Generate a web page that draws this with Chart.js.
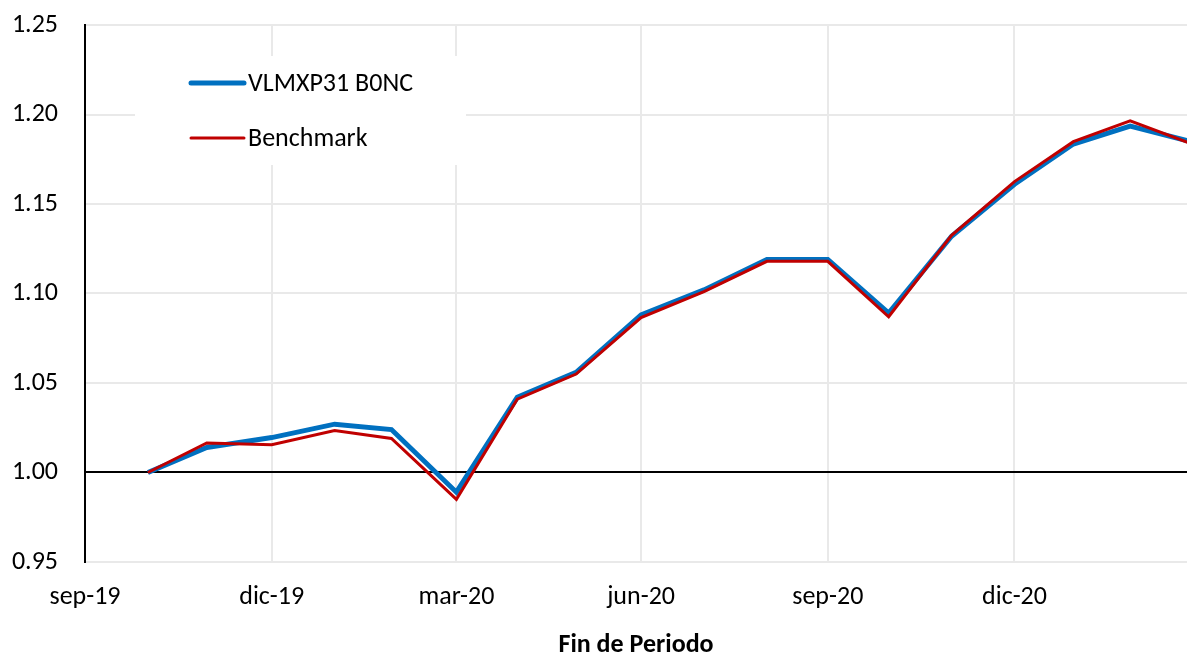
<!DOCTYPE html>
<html lang="es">
<head>
    <meta charset="UTF-8">
    <title>VLMXP31 B0NC vs Benchmark</title>
    <script src="https://cdn.jsdelivr.net/npm/chart.js"></script>
    <style>
        html, body { margin: 0; padding: 0; background: #fff; }
        #wrap { width: 1187px; height: 661px; }
    </style>
</head>
<body>
    <div id="wrap"><canvas id="perfChart" width="1187" height="661"></canvas></div>

    <script>
        // month-end observation dates (last business day)
        const dates = ['2019-10-31', '2019-11-29', '2019-12-31', '2020-01-31', '2020-02-28', '2020-03-31',
            '2020-04-30', '2020-05-29', '2020-06-30', '2020-07-31', '2020-08-31', '2020-09-30',
            '2020-10-30', '2020-11-30', '2020-12-31', '2021-01-29', '2021-02-26', '2021-03-31'];

        const fundValues = [1.000, 1.014, 1.0195, 1.027, 1.024, 0.989, 1.042, 1.056, 1.088, 1.102, 1.119,
            1.119, 1.089, 1.132, 1.161, 1.1835, 1.1935, 1.184];
        const benchValues = [1.000, 1.0165, 1.0155, 1.0235, 1.019, 0.985, 1.041, 1.055, 1.0865, 1.101, 1.118,
            1.118, 1.087, 1.1325, 1.1625, 1.1848, 1.1965, 1.1825];

        // quarterly tick marks on the date axis
        const tickDates = ['2019-09-30', '2019-12-31', '2020-03-31', '2020-06-30', '2020-09-30', '2020-12-31'];
        const tickLabels = ['sep-19', 'dic-19', 'mar-20', 'jun-20', 'sep-20', 'dic-20'];
        const axisStart = '2019-09-30';
        const axisEnd = '2021-03-26';

        const dayNum = s => Date.UTC(+s.slice(0, 4), +s.slice(5, 7) - 1, +s.slice(8, 10)) / 86400000;
        const toPoints = vals => dates.map((d, i) => ({ x: dayNum(d), y: vals[i] }));

        const fontFamily = 'Carlito, Calibri, Lato, sans-serif';
        const fontSize = 26;

        // legend drawn inside the plot on a white box
        const insideLegend = {
            id: 'insideLegend',
            afterDatasetsDraw(chart) {
                const ctx = chart.ctx;
                const area = chart.chartArea;
                const x0 = area.left + 50, y0 = area.top + 31;
                ctx.save();
                ctx.fillStyle = '#fff';
                ctx.fillRect(x0, y0, 331, 109);
                chart.data.datasets.forEach((ds, i) => {
                    const y = y0 + 27 + i * 55;
                    ctx.strokeStyle = ds.borderColor;
                    ctx.lineWidth = ds.borderWidth;
                    ctx.lineCap = 'round';
                    ctx.beginPath();
                    ctx.moveTo(x0 + 56, y);
                    ctx.lineTo(x0 + 109, y);
                    ctx.stroke();
                    ctx.fillStyle = '#000';
                    ctx.font = fontSize + 'px ' + fontFamily;
                    ctx.textBaseline = 'middle';
                    ctx.fillText(ds.label, x0 + 113, y + 1);
                });
                ctx.restore();
            }
        };

        const ctx = document.getElementById('perfChart').getContext('2d');
        new Chart(ctx, {
            type: 'line',
            data: {
                datasets: [{
                    label: 'VLMXP31 B0NC',
                    data: toPoints(fundValues),
                    borderColor: '#0070C0',
                    borderWidth: 5,
                    pointRadius: 0,
                    tension: 0,
                    fill: false,
                    order: 2
                }, {
                    label: 'Benchmark',
                    data: toPoints(benchValues),
                    borderColor: '#C00000',
                    borderWidth: 3,
                    pointRadius: 0,
                    tension: 0,
                    fill: false,
                    order: 1
                }]
            },
            options: {
                responsive: false,
                animation: false,
                layout: { padding: { top: 25, right: 0, left: 0, bottom: 0 } },
                plugins: {
                    legend: { display: false },
                    tooltip: { enabled: false }
                },
                scales: {
                    x: {
                        type: 'linear',
                        min: dayNum(axisStart),
                        max: dayNum(axisEnd),
                        afterBuildTicks: axis => {
                            axis.ticks = tickDates.map(d => ({ value: dayNum(d) }));
                        },
                        grid: {
                            color: '#e9e9e9',
                            lineWidth: 2,
                            drawTicks: false
                        },
                        border: { display: false },
                        ticks: {
                            autoSkip: false,
                            maxRotation: 0,
                            padding: 20,
                            color: '#000',
                            font: { family: fontFamily, size: fontSize },
                            callback: v => {
                                const i = tickDates.findIndex(d => dayNum(d) === v);
                                return i >= 0 ? tickLabels[i] : '';
                            }
                        },
                        title: {
                            display: true,
                            text: 'Fin de Periodo',
                            color: '#000',
                            font: { family: fontFamily, size: fontSize, weight: 'bold' },
                            padding: { top: 10, bottom: 0 }
                        },
                        afterFit: axis => {
                            axis.height = 99;
                            axis.paddingLeft = 0;
                            axis.paddingRight = 0;
                        }
                    },
                    y: {
                        min: 0.95,
                        max: 1.25,
                        grid: {
                            color: c => (Math.abs(c.tick.value - 1) < 1e-9 ? '#000' : '#e9e9e9'),
                            lineWidth: 2,
                            drawTicks: false
                        },
                        border: { display: true, color: '#000', width: 2 },
                        ticks: {
                            stepSize: 0.05,
                            padding: 27,
                            color: '#000',
                            font: { family: fontFamily, size: fontSize },
                            callback: v => v.toFixed(2)
                        },
                        afterFit: axis => {
                            axis.width = 85;
                            axis.paddingTop = 0;
                            axis.paddingBottom = 0;
                        }
                    }
                }
            },
            plugins: [insideLegend]
        });
    </script>
</body>
</html>
